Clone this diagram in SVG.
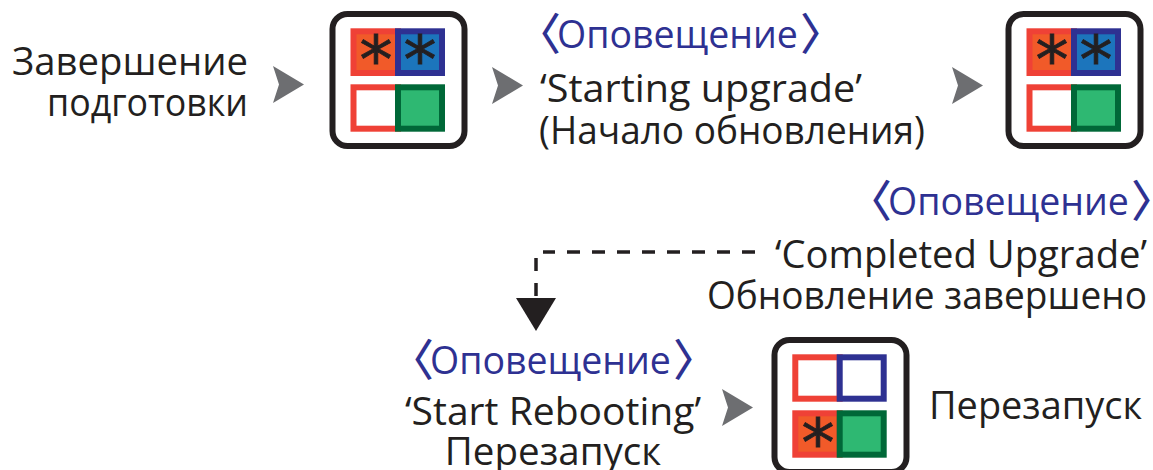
<svg xmlns="http://www.w3.org/2000/svg" width="1153" height="470" viewBox="0 0 1153 470">
<style>
text{font-family:"Open Sans","Noto Sans","Noto Sans CJK SC",sans-serif;font-size:38.500px;fill:#231f20}
.c{text-anchor:middle}.n{fill:#2e3192;font-size:37.500px}
.br{font-family:"Noto Sans CJK SC",sans-serif;font-size:44px;font-weight:500}
.star{font-family:"DejaVu Sans",sans-serif;font-size:66px;text-anchor:middle;stroke:#231f20;stroke-width:.8}
.box{fill:#fff;stroke:#231f20;stroke-width:6}
.r{fill:#fff;stroke:#ef4136;stroke-width:6}.ro{fill:#f15a29;stroke:#ef4136;stroke-width:6}
.b{fill:#fff;stroke:#2e3192;stroke-width:6}.bf{fill:#1c75bc;stroke:#2e3192;stroke-width:6}
.g{fill:#2eb872;stroke:#006838;stroke-width:6}
.ar{fill:#6d6e71}
.dash{fill:none;stroke:#231f20;stroke-width:3.500;stroke-dasharray:13 12}
</style>
<defs>
<g id="grid2"><rect class="box" x="0" y="0" width="132" height="132" rx="15"/>
<rect class="ro" x="21" y="17.300" width="44.500" height="41.700"/><rect class="bf" x="65.500" y="17.300" width="44" height="41.700"/>
<rect class="r" x="21" y="73.300" width="44.500" height="41.400"/><rect class="g" x="65.500" y="73.300" width="44" height="41.400"/>
</g>
<polygon id="head" class="ar" points="0,0 31,18.500 0,37 6,18.500"/>
</defs>
<g id="connectors">
<use href="#head" x="273" y="66"/>
<use href="#head" x="492" y="67"/>
<use href="#head" x="952" y="67"/>
<use href="#head" x="722" y="389"/>
<path class="dash" d="M755 252H543"/>
<path class="dash" d="M536 258V296"/>
<polygon points="516,298 556,298 536,331" fill="#231f20"/>
</g>
<g id="label-ready"><text x="12" y="75" textLength="236" lengthAdjust="spacingAndGlyphs">Завершение</text><text x="47" y="116" textLength="201" lengthAdjust="spacingAndGlyphs">подготовки</text></g>
<g id="node-1"><use href="#grid2" x="332.500" y="14"/><text class="star" x="376" y="83">*</text><text class="star" x="420" y="83">*</text></g>
<g id="label-starting"><text class="n" x="517" y="48"><tspan class="br" dy="1.500">〈</tspan><tspan dx="-4" dy="-1.500">Оповещение</tspan><tspan class="br" dx="2" dy="1.500">〉</tspan></text><text x="540" y="102" textLength="322" lengthAdjust="spacingAndGlyphs">‘Starting upgrade’</text><text x="539" y="144" textLength="386" lengthAdjust="spacingAndGlyphs">(Начало обновления)</text></g>
<g id="node-2"><use href="#grid2" x="1008.500" y="14"/><text class="star" x="1052" y="83">*</text><text class="star" x="1096" y="83">*</text></g>
<g id="label-completed"><text class="n" x="848" y="215"><tspan class="br" dy="1.500">〈</tspan><tspan dx="-4" dy="-1.500">Оповещение</tspan><tspan class="br" dx="2" dy="1.500">〉</tspan></text><text x="775" y="268" textLength="372" lengthAdjust="spacingAndGlyphs">‘Completed Upgrade’</text><text x="707" y="309" textLength="440" lengthAdjust="spacingAndGlyphs">Обновление завершено</text></g>
<g id="label-rebooting"><text class="n" x="390" y="374"><tspan class="br" dy="1.500">〈</tspan><tspan dx="-4" dy="-1.500">Оповещение</tspan><tspan class="br" dx="2" dy="1.500">〉</tspan></text><text x="405" y="425" textLength="296" lengthAdjust="spacingAndGlyphs">‘Start Rebooting’</text><text class="c" x="553" y="465">Перезапуск</text></g>
<g id="node-3"><rect class="box" x="774.500" y="340" width="132" height="132" rx="15"/>
<rect class="r" x="795.300" y="357.300" width="44.400" height="41.400"/><rect class="b" x="839.700" y="357.300" width="44" height="41.400"/>
<rect class="ro" x="795.300" y="413.300" width="44.400" height="41.400"/><rect class="g" x="839.700" y="413.300" width="44" height="41.400"/>
<text class="star" x="818" y="466">*</text></g>
<g id="label-reboot"><text x="929" y="419" textLength="213" lengthAdjust="spacingAndGlyphs">Перезапуск</text></g>
</svg>
